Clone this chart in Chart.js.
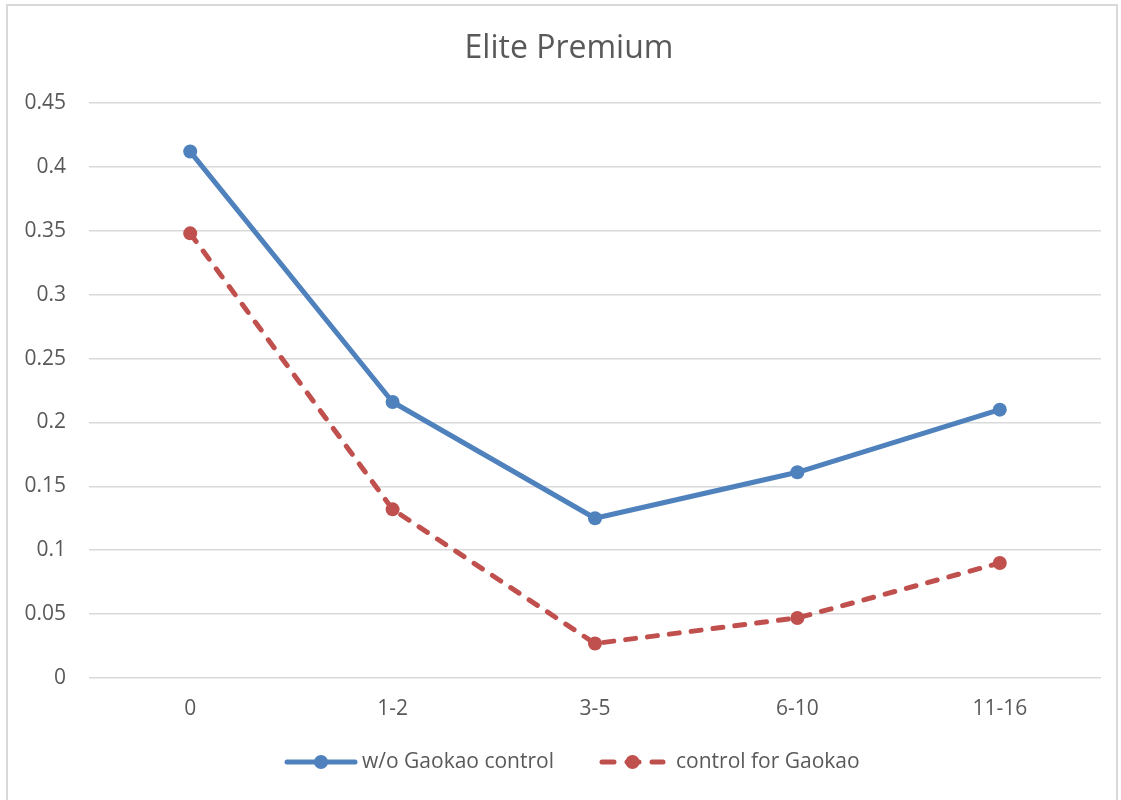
<!DOCTYPE html>
<html>
<head>
<meta charset="utf-8">
<script src="https://cdn.jsdelivr.net/npm/chart.js@4.4.1/dist/chart.umd.min.js"></script>
<style>
  html, body { margin: 0; padding: 0; background: #ffffff; }
  #frame { position: absolute; left: 6px; top: 4px; width: 1112px; height: 900px; border: 2px solid #d9d9d9; box-sizing: border-box; }
  #wrap { position: absolute; left: 0; top: 0; width: 1121px; height: 800px; }
</style>
</head>
<body>
<div id="frame"></div>
<div id="wrap"><canvas id="chart" width="1121" height="800"></canvas></div>
<script>
// Years since entry groups
const categories = ['0', '1-2', '3-5', '6-10', '11-16'];
// Estimated elite premium, without and with the Gaokao score control
const withoutGaokao = [0.412, 0.216, 0.125, 0.161, 0.210];
const withGaokao = [0.348, 0.132, 0.027, 0.047, 0.090];
const seriesNames = ['w/o Gaokao control', 'control for Gaokao'];
const chartTitle = 'Elite Premium';

const FONT = '"Open Sans", Lato, sans-serif';
const TEXT = '#595959';
const BLUE = '#4f81bd';
const RED = '#c0504d';

// Title and line-style legend drawn on the canvas
const decorations = {
  id: 'decorations',
  afterDraw(chart) {
    const ctx = chart.ctx;
    ctx.save();
    ctx.fillStyle = TEXT;
    ctx.font = '32px ' + FONT;
    ctx.textAlign = 'center';
    ctx.textBaseline = 'middle';
    ctx.fillText(chartTitle, 569, 49);

    const y = 762;
    const items = [
      { ds: chart.data.datasets[0], x0: 287, x1: 355, dash: [], text: seriesNames[0], tx: 362 },
      { ds: chart.data.datasets[1], x0: 602, x1: 663, dash: [12, 13], text: seriesNames[1], tx: 676 }
    ];
    items.forEach(it => {
      ctx.strokeStyle = it.ds.borderColor;
      ctx.lineWidth = it.ds.borderWidth;
      ctx.lineCap = 'round';
      ctx.setLineDash(it.dash);
      ctx.beginPath();
      ctx.moveTo(it.x0, y);
      ctx.lineTo(it.x1, y);
      ctx.stroke();
      ctx.setLineDash([]);
      ctx.fillStyle = it.ds.pointBackgroundColor;
      ctx.beginPath();
      ctx.arc((it.x0 + it.x1) / 2, y, it.ds.pointRadius, 0, Math.PI * 2);
      ctx.fill();
      ctx.fillStyle = TEXT;
      ctx.font = '21px ' + FONT;
      ctx.textAlign = 'left';
      ctx.fillText(it.text, it.tx, y);
    });
    ctx.restore();
  }
};

new Chart(document.getElementById('chart'), {
  type: 'line',
  data: {
    labels: categories,
    datasets: [
      {
        label: seriesNames[0],
        data: withoutGaokao,
        borderColor: BLUE,
        backgroundColor: BLUE,
        pointBackgroundColor: BLUE,
        pointBorderColor: BLUE,
        borderWidth: 5,
        pointRadius: 7,
        pointBorderWidth: 0,
        borderCapStyle: 'round',
        borderJoinStyle: 'round',
        tension: 0
      },
      {
        label: seriesNames[1],
        data: withGaokao,
        borderColor: RED,
        backgroundColor: RED,
        pointBackgroundColor: RED,
        pointBorderColor: RED,
        borderWidth: 5,
        borderDash: [10, 12],
        pointRadius: 7,
        pointBorderWidth: 0,
        borderCapStyle: 'round',
        borderJoinStyle: 'round',
        tension: 0
      }
    ]
  },
  options: {
    responsive: false,
    animation: false,
    layout: { padding: { left: 0, right: 20, top: 103, bottom: 0 } },
    plugins: {
      legend: { display: false },
      title: { display: false },
      tooltip: { enabled: false }
    },
    scales: {
      x: {
        offset: true,
        grid: { display: false, drawTicks: false },
        border: { display: false },
        ticks: { color: TEXT, font: { family: FONT, size: 21 }, padding: 18 },
        afterFit(scale) { scale.height = 122; }
      },
      y: {
        min: 0,
        max: 0.45,
        ticks: {
          stepSize: 0.05,
          color: TEXT,
          font: { family: FONT, size: 21 },
          padding: 23,
          callback: v => String(Math.round(v * 100) / 100)
        },
        grid: { color: '#d9d9d9', lineWidth: 1.5, drawTicks: false },
        border: { display: false },
        afterFit(scale) { scale.width = 89; }
      }
    }
  },
  plugins: [decorations]
});
</script>
</body>
</html>
